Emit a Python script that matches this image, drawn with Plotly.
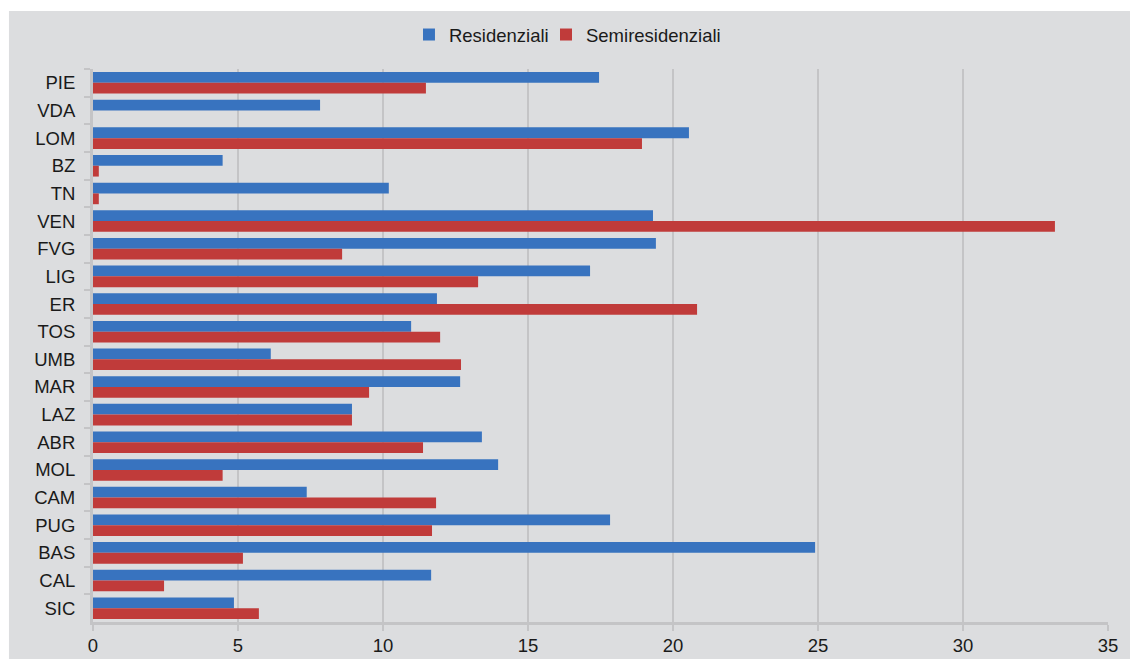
import plotly.graph_objects as go

regions = ["PIE", "VDA", "LOM", "BZ", "TN", "VEN", "FVG", "LIG", "ER", "TOS",
           "UMB", "MAR", "LAZ", "ABR", "MOL", "CAM", "PUG", "BAS", "CAL", "SIC"]
residenziali = [17.45, 7.83, 20.55, 4.47, 10.2, 19.31, 19.41, 17.14, 11.86, 10.97,
                6.13, 12.66, 8.93, 13.41, 13.97, 7.37, 17.83, 24.9, 11.66, 4.86]
semiresidenziali = [11.48, None, 18.93, 0.2, 0.2, 33.17, 8.59, 13.28, 20.83, 11.97,
                    12.69, 9.52, 8.93, 11.38, 4.47, 11.83, 11.69, 5.17, 2.45, 5.72]
x_ticks = [0, 5, 10, 15, 20, 25, 30, 35]

BG = "#DCDDDF"
GRID = "#C4C4C6"

fig = go.Figure()
fig.add_trace(go.Bar(y=regions, x=residenziali, name="Residenziali", orientation="h",
                     marker=dict(color="#3873BF", line=dict(width=0)), legend="legend"))
fig.add_trace(go.Bar(y=regions, x=semiresidenziali, name="Semiresidenziali", orientation="h",
                     marker=dict(color="#C03B3A", line=dict(width=0)), legend="legend2"))

# gray card behind the chart, thin white edge at top/left
fig.add_shape(type="rect", xref="paper", yref="paper", x0=-0.0828, x1=1.05, y0=-0.1, y1=1.105,
              fillcolor=BG, line=dict(width=0), layer="below")

legend_style = dict(orientation="h", xanchor="left", y=1.0615, yanchor="middle",
                    bgcolor="rgba(0,0,0,0)", font=dict(size=18.5), itemwidth=30)

fig.update_layout(
    width=1130, height=659,
    margin=dict(l=93, r=22, t=69, b=37),
    paper_bgcolor="white", plot_bgcolor=BG,
    font=dict(family="Liberation Sans, Arial, sans-serif", size=18.5, color="#1A1A1A"),
    barmode="group", bargap=0.22, bargroupgap=0,
    showlegend=True,
    legend=dict(x=0.3113, **legend_style),
    legend2=dict(x=0.4463, **legend_style),
    xaxis=dict(range=[0, 35], tickvals=x_ticks, showgrid=True, gridcolor=GRID, gridwidth=2,
               zeroline=False, showline=True, linecolor=GRID, linewidth=3, automargin=False,
               ticks="outside", ticklen=6, tickcolor=GRID, tickwidth=2, ticklabelstandoff=-1),
    yaxis=dict(categoryorder="array", categoryarray=regions, autorange="reversed",
               showgrid=False, showline=True, linecolor=GRID, linewidth=3, automargin=False,
               ticks="outside", tickson="boundaries", ticklen=6, tickcolor=GRID, tickwidth=2,
               ticklabelstandoff=11),
)

# drop the default 8px body margin so the figure fills the window exactly
fig.write_html("out.html", config={"displayModeBar": False},
               post_script="document.body.style.margin='0';")
